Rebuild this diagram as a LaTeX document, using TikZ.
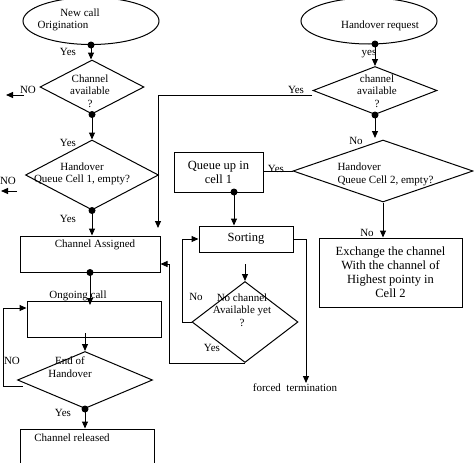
\documentclass[tikz,border=0pt]{standalone}
\usepackage{fontspec}
\setmainfont{Liberation Serif}
\usetikzlibrary{shapes.geometric,arrows.meta}
\begin{document}
\begin{tikzpicture}[x=1pt,y=-1pt,line width=1pt,
  every node/.style={font=\fontsize{11}{12.5}\selectfont, inner sep=0pt},
  box/.style={draw, rectangle},
  ell/.style={draw, ellipse},
  dia/.style={draw, diamond},
  big/.style={font=\fontsize{12.5}{14}\selectfont, align=center},
  arr/.style={-{Triangle[length=7pt,width=6pt]}},
  dotr/.style={fill}
]
\useasboundingbox (0,0) rectangle (474,463);

% ---------- shapes left column ----------
\node[ell, minimum width=136pt, minimum height=47pt] (e1) at (91,21) {};
\node (te1a) at (80,13) {New call};
\node (te1b) at (63,26) {Origination};

\node[dia, minimum width=104pt, minimum height=54pt] (d1) at (92,87) {};
\node[align=center] (td1) at (90,91) {Channel\\available\\?};

\node[dia, minimum width=133pt, minimum height=70pt] (d2) at (92,175) {};
\node[align=center] (td2) at (82,174) {Handover\\Queue Cell 1, empty?};

\node[box, minimum width=140pt, minimum height=36pt] (b1) at (90,254) {};
\node (tb1) at (95,245) {Channel Assigned};

\node[box, minimum width=134pt, minimum height=36pt] (b2) at (94,319) {};
\node (tb2) at (78,296) {Ongoing call};

\node[dia, minimum width=135pt, minimum height=57pt] (d3) at (85,380) {};
\node[align=center] (td3) at (70,367) {End of\\Handover};

\node[box, minimum width=134pt, minimum height=44pt] (b3) at (87,451) {};
\node (tb3) at (72,438) {Channel released};

% ---------- shapes right ----------
\node[ell, minimum width=136pt, minimum height=46pt] (e2) at (369,21) {};
\node (te2) at (380,26) {Handover request};

\node[dia, minimum width=124pt, minimum height=48pt] (d4) at (375,90.5) {};
\node[align=center] (td4) at (377,91) {channel\\available\\?};

\node[dia, minimum width=180pt, minimum height=62pt] (d5) at (383,171) {};
\node[align=left, anchor=west] (td5) at (337,174.5) {Handover\\Queue Cell 2, empty?};

\node[box, big, minimum width=89pt, minimum height=40pt] (q) at (218.5,172) {Queue up in\\cell 1};
\node[box, big, minimum width=94pt, minimum height=26pt] (s) at (246,239) {Sorting};
\node[dia, minimum width=106pt, minimum height=81pt] (d6) at (245,322) {};
\node[align=center] (td6) at (242,310) {No channel\\Available yet\\?};

\node[box, big, minimum width=143pt, minimum height=69pt] (x) at (390.5,272.5)
  {Exchange the channel\\With the channel of\\Highest pointy in\\Cell 2};

\node (ft) at (295,388) {forced \ termination};

% ---------- labels ----------
\node (l1) at (68,52) {Yes};
\node (l2) at (68,143) {Yes};
\node (l3) at (28,90) {NO};
\node (l4) at (8,181) {NO};
\node (l5) at (68,219) {Yes};
\node (l6) at (12,361) {NO};
\node (l7) at (63,413) {Yes};
\node (l8) at (369,54) {yes};
\node (l9) at (296,90) {Yes};
\node (l10) at (356,141) {No};
\node (l11) at (276,169) {Yes};
\node (l12) at (367,233) {No};
\node (l13) at (196,297) {No};
\node (l14) at (212,348) {Yes};

% ---------- coordinates ----------
\coordinate (no1s) at (24,95);
\coordinate (no1e) at (6,95);
\coordinate (no2s) at (17,191);
\coordinate (no2e) at (1,191);
\coordinate (c1) at (90,305);
\coordinate (c2) at (85,333);
\coordinate (c3) at (23,386);
\coordinate (c4) at (375,44);
\coordinate (c5) at (312,95);
\coordinate (c6) at (158,228);
\coordinate (c7) at (234,192);
\coordinate (c8) at (245,264);
\coordinate (c9) at (306,383);
\coordinate (c10) at (375,138);

% ---------- connectors left ----------
\fill (e1.south) circle[radius=3.5pt];
\draw[arr] (e1.south) -- (e1.south |- d1.north);
\fill (d1.south) circle[radius=3.5pt];
\draw[arr] (d1.south) -- (d1.south |- d2.north);
\draw[arr] (no1s) -- (no1e);
\draw[arr] (no2s) -- (no2e);
\fill (d2.south) circle[radius=3.5pt];
\draw[arr] (d2.south) -- (d2.south |- b1.north);
\fill (b1.south) circle[radius=3.5pt];
\draw[arr] (b1.south) -- (c1);
\draw[arr] (c2) -- (d3.north);
\draw[arr] (c3) -- ++(-20,0) |- ([yshift=11pt]b2.west);
\fill (d3.south) circle[radius=3.5pt];
\draw[arr] (d3.south) -- (d3.south |- b3.north);

% ---------- connectors right ----------
\fill (c4) circle[radius=3.5pt];
\draw[arr] (c4) -- (d4.north);
\fill (d4.south) circle[radius=3.5pt];
\draw[arr] (d4.south) -- (c10);
\draw[arr] (c5) -- (c6 |- c5) -- (c6);
\draw (d5.west) -- (d5.west -| q.east);
\draw[arr] (d5.south) -- (d5.south |- x.north);
\fill (c7) circle[radius=3.5pt];
\draw[arr] (c7) -- (c7 |- s.north);
\draw[arr] (c8) -- (d6.north);
\draw[arr] (s.east) -- (c9 |- s.east) -- (c9);
\draw[arr] (d6.west) -- ++(-9,0) |- (s.west);
\draw[arr] (d6.south) -| (169,264) -- ([yshift=-10pt]b1.east);
\end{tikzpicture}
\end{document}
